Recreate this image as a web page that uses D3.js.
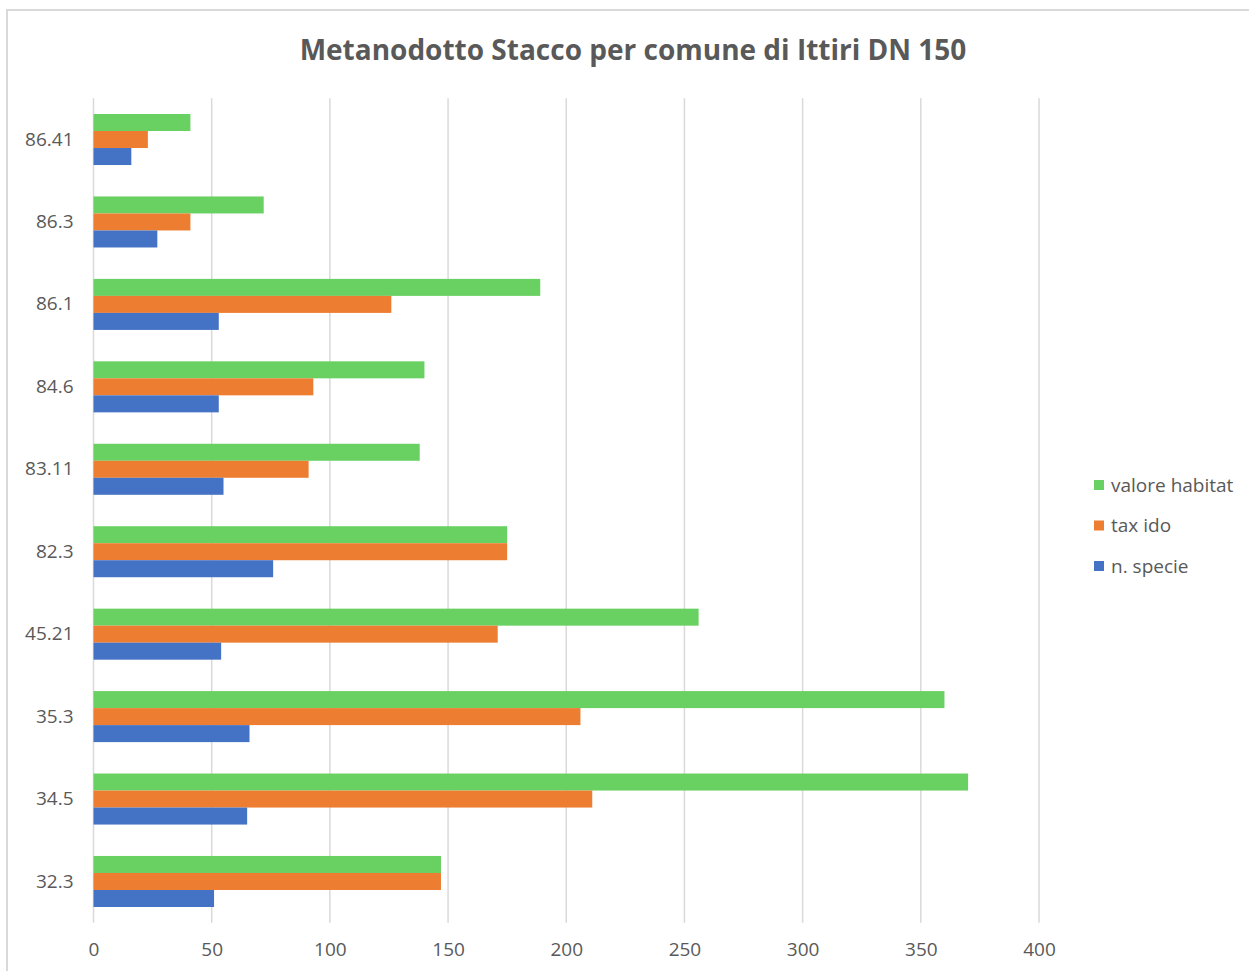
<!DOCTYPE html>
<html>
<head>
<meta charset="utf-8">
<script src="https://cdn.jsdelivr.net/npm/d3@7"></script>
<style>
  html, body { margin: 0; padding: 0; background: #ffffff; }
  svg { display: block; }
  text { font-family: "Segoe UI", "Open Sans", "Noto Sans", sans-serif; fill: #595959; }
</style>
</head>
<body>
<svg id="chart" width="1249" height="971"></svg>
<script>
// Sampling points along the pipeline (top to bottom as drawn)
const categories = ["86.41", "86.3", "86.1", "84.6", "83.11", "82.3", "45.21", "35.3", "34.5", "32.3"];

// Series values, one per category
const valoreHabitat = [41, 72, 189, 140, 138, 175, 256, 360, 370, 147];
const taxIdo        = [23, 41, 126, 93, 91, 175, 171, 206, 211, 147];
const nSpecie       = [16, 27, 53, 53, 55, 76, 54, 66, 65, 51];

const seriesNames = ["valore habitat", "tax ido", "n. specie"];
const xTicks = [0, 50, 100, 150, 200, 250, 300, 350, 400];
const titleText = "Metanodotto Stacco per comune di Ittiri DN 150";

const series = [
  { name: seriesNames[0], values: valoreHabitat, color: "#68D162" },
  { name: seriesNames[1], values: taxIdo,        color: "#ED7D31" },
  { name: seriesNames[2], values: nSpecie,       color: "#4472C4" }
];

const svg = d3.select("#chart");

// outer chart frame
svg.append("rect")
  .attr("x", 7).attr("y", 10)
  .attr("width", 1260).attr("height", 980)
  .attr("fill", "none")
  .attr("stroke", "#d9d9d9")
  .attr("stroke-width", 2);

const plot = { left: 93.5, right: 1039, top: 98.3, bottom: 922.7 };

const x = d3.scaleLinear().domain([0, 400]).range([plot.left, plot.right]);

const y = d3.scaleBand()
  .domain(categories)
  .range([plot.top, plot.bottom])
  .paddingInner(0.381)
  .paddingOuter(0.1905);

const ySub = d3.scaleBand()
  .domain(seriesNames)
  .range([0, y.bandwidth()]);

// vertical gridlines
svg.append("g")
  .selectAll("line")
  .data(xTicks)
  .join("line")
  .attr("x1", d => x(d)).attr("x2", d => x(d))
  .attr("y1", plot.top).attr("y2", plot.bottom)
  .attr("stroke", "#d9d9d9")
  .attr("stroke-width", 1.5);

// bars
const groups = svg.append("g")
  .selectAll("g")
  .data(categories)
  .join("g")
  .attr("transform", d => `translate(0,${y(d)})`);

groups.selectAll("rect")
  .data((c, i) => series.map(s => ({ name: s.name, value: s.values[i], color: s.color })))
  .join("rect")
  .attr("x", x(0))
  .attr("y", d => ySub(d.name))
  .attr("width", d => x(d.value) - x(0))
  .attr("height", ySub.bandwidth())
  .attr("fill", d => d.color);

// category axis (labels only)
const yAxis = d3.axisLeft(y).tickSize(0).tickPadding(20);
const yg = svg.append("g")
  .attr("transform", `translate(${plot.left},0)`)
  .call(yAxis);
yg.select(".domain").remove();
yg.selectAll("text")
  .style("font-size", "19px")
  .attr("fill", "#595959");

// value axis (labels only)
const xAxis = d3.axisBottom(x).tickValues(xTicks).tickSize(0).tickPadding(20);
const xg = svg.append("g")
  .attr("transform", `translate(0,${plot.bottom})`)
  .call(xAxis);
xg.select(".domain").remove();
xg.selectAll("text")
  .style("font-size", "19px")
  .attr("fill", "#595959");

// title
svg.append("text")
  .attr("x", 633)
  .attr("y", 60)
  .attr("text-anchor", "middle")
  .style("font-size", "28px")
  .style("font-weight", 700)
  .text(titleText);

// legend
const legend = svg.append("g")
  .selectAll("g")
  .data(series)
  .join("g")
  .attr("transform", (d, i) => `translate(1094,${485 + i * 40.5})`);

legend.append("rect")
  .attr("x", 0).attr("y", -5)
  .attr("width", 10).attr("height", 10)
  .attr("fill", d => d.color);

legend.append("text")
  .attr("x", 17)
  .attr("y", 0)
  .attr("dy", "0.35em")
  .style("font-size", "19px")
  .text(d => d.name);
</script>
</body>
</html>
